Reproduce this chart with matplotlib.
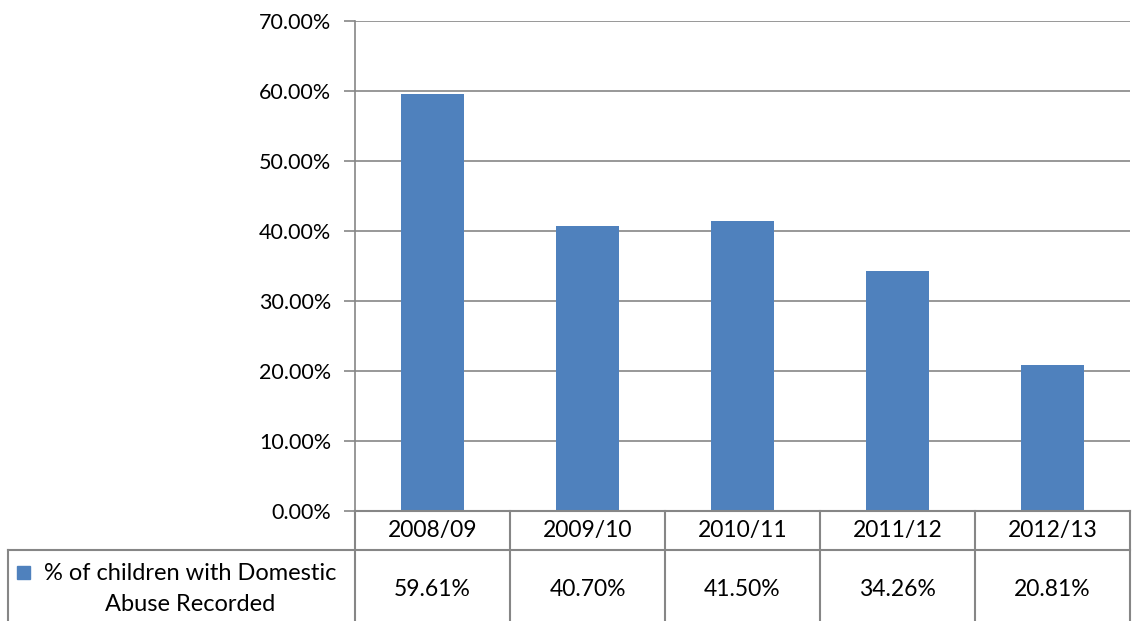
import numpy as np
import matplotlib
matplotlib.use("Agg")
from matplotlib import pyplot as plt
from matplotlib.lines import Line2D
from matplotlib.patches import Rectangle

years = ["2008/09", "2009/10", "2010/11", "2011/12", "2012/13"]
pct = [59.61, 40.70, 41.50, 34.26, 20.81]
series_name = "% of children with Domestic\nAbuse Recorded"
yticks = [0, 10, 20, 30, 40, 50, 60, 70]

plt.rcParams['font.family'] = ['Lato', 'DejaVu Sans']
W, H = 1135, 621
blue = "#4f81bd"
grey = "#868686"
fs = 15.5
fs_tab = 16.5

fig = plt.figure(figsize=(W / 100, H / 100), dpi=100)
# plot area in pixels
x0, x1, ytop, ybot = 355, 1130, 21, 511
ax = fig.add_axes([x0 / W, 1 - ybot / H, (x1 - x0) / W, (ybot - ytop) / H])

x = np.arange(len(years))
ax.bar(x, pct, width=0.41, color=blue, zorder=3)
ax.set_xlim(-0.5, len(years) - 0.5)
ax.set_ylim(0, 70)
ax.set_yticks(yticks)
ax.set_yticklabels(["%.2f%%" % v for v in yticks], fontsize=fs)
ax.set_xticks([])
ax.yaxis.grid(True, color=grey, lw=1.2, zorder=0)
ax.tick_params(axis='y', length=8, width=1.2, color=grey, pad=9)
for s in ["top", "right", "bottom"]:
    ax.spines[s].set_visible(False)
ax.spines["left"].set_color(grey)
ax.spines["left"].set_linewidth(1.2)

# data table below the axes, in pixel coords
def fx(px):
    return px / W

def fy(py):
    return 1 - py / H

row1 = 550
col = np.linspace(x0, x1, len(years) + 1)
lines = [
    ((x0, x0), (ybot, H)),
    ((8, x1), (row1, row1)),
    ((8, 8), (row1, H)),
    ((x0, x1), (ybot, ybot)),
]
for c in col[1:]:
    lines.append(((c, c), (ybot, H)))
for (xs, ys) in lines:
    fig.add_artist(Line2D([fx(v) for v in xs], [fy(v) for v in ys],
                          color=grey, lw=1.5))

for i, yr in enumerate(years):
    cx = (col[i] + col[i + 1]) / 2
    fig.text(fx(cx), fy((ybot + row1) / 2), yr, ha="center", va="center", fontsize=fs_tab)
    fig.text(fx(cx), fy(589), "%.2f%%" % pct[i], ha="center",
             va="center", fontsize=fs_tab)

fig.add_artist(Rectangle((fx(17), fy(579)), 13 / W, 13 / H, color=blue))
fig.text(fx(190), fy(589), series_name, ha="center", va="center", fontsize=17,
         multialignment="center", linespacing=1.6)

fig.savefig("out.png", dpi=100)
